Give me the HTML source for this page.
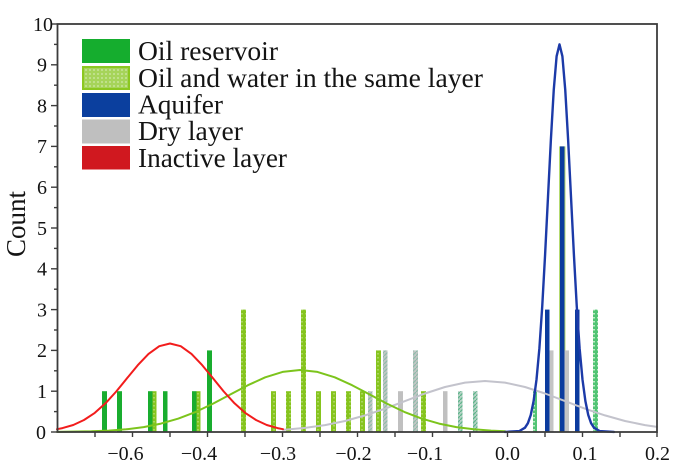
<!DOCTYPE html>
<html>
<head>
<meta charset="utf-8">
<style>
html,body{margin:0;padding:0;background:#ffffff;}
svg{display:block;}
text{font-family:"Liberation Serif","Times New Roman",serif;fill:#141414;}
</style>
</head>
<body>
<svg width="680" height="468" viewBox="0 0 680 468" xmlns="http://www.w3.org/2000/svg">
<defs>
  <pattern id="lg" width="4" height="4" patternUnits="userSpaceOnUse">
    <rect width="4" height="4" fill="#86c41e"/>
    <rect x="1" y="1" width="2" height="1.5" fill="#a9d65e"/>
  </pattern>
  <pattern id="gh" width="4" height="4" patternUnits="userSpaceOnUse">
    <rect width="4" height="4" fill="#c2c6c4"/>
    <path d="M0 4 L4 0" stroke="#8fbcab" stroke-width="1.2"/>
  </pattern>
  <pattern id="th" width="4" height="4" patternUnits="userSpaceOnUse">
    <rect width="4" height="4" fill="#b4d2c4"/>
    <path d="M0 4 L4 0" stroke="#5fb48c" stroke-width="1.3"/>
  </pattern>
  <pattern id="gd" width="4" height="4" patternUnits="userSpaceOnUse">
    <rect width="4" height="4" fill="#52c474"/>
    <rect x="1" y="1" width="2" height="1.5" fill="#c2ecc8"/>
  </pattern>
  <pattern id="lgs" width="4" height="4" patternUnits="userSpaceOnUse">
    <rect width="4" height="4" fill="#a6d45a"/>
    <rect x="1" y="1" width="2" height="2" fill="#bfe08a"/>
  </pattern>
</defs>

<rect x="0" y="0" width="680" height="468" fill="#ffffff"/>

<!-- Bars: dark green (Oil reservoir) -->
<g fill="#19ad2f">
  <rect x="102" y="391.2" width="5" height="40.8"/>
  <rect x="117" y="391.2" width="5" height="40.8"/>
  <rect x="148" y="391.2" width="4.5" height="40.8"/>
  <rect x="163" y="391.2" width="4.5" height="40.8"/>
  <rect x="192" y="391.2" width="4.5" height="40.8"/>
  <rect x="207" y="350.4" width="5" height="81.6"/>
</g>

<!-- Bars: light green (Oil and water in the same layer) -->
<g fill="url(#lg)">
  <rect x="152.5" y="391.2" width="4" height="40.8"/>
  <rect x="196.5" y="391.2" width="4" height="40.8"/>
  <rect x="241" y="309.6" width="5" height="122.4"/>
  <rect x="271" y="391.2" width="5" height="40.8"/>
  <rect x="286" y="391.2" width="5" height="40.8"/>
  <rect x="301" y="309.6" width="5" height="122.4"/>
  <rect x="316" y="391.2" width="5" height="40.8"/>
  <rect x="331" y="391.2" width="5" height="40.8"/>
  <rect x="346" y="391.2" width="5" height="40.8"/>
  <rect x="360" y="391.2" width="5" height="40.8"/>
  <rect x="376" y="350.4" width="5" height="81.6"/>
  <rect x="421" y="391.2" width="5" height="40.8"/>
</g>
<rect x="559" y="146.4" width="6.5" height="285.6" fill="#b4da70"/>

<!-- Bars: grey / hatched -->
<rect x="368" y="391.2" width="4.5" height="40.8" fill="url(#gh)"/>
<rect x="383" y="350.4" width="4.5" height="81.6" fill="url(#gh)"/>
<rect x="398" y="391.2" width="5" height="40.8" fill="#c0c0c0"/>
<rect x="413" y="350.4" width="5" height="81.6" fill="url(#gh)"/>
<rect x="443" y="391.2" width="4.5" height="40.8" fill="#c0c0c0"/>
<rect x="458" y="391.2" width="4.5" height="40.8" fill="url(#th)"/>
<rect x="473" y="391.2" width="4.5" height="40.8" fill="url(#th)"/>
<rect x="533" y="391.2" width="4" height="40.8" fill="url(#gd)"/>
<rect x="549" y="350.4" width="4.5" height="81.6" fill="#c4c4c4"/>
<rect x="564.5" y="350.4" width="4.5" height="81.6" fill="#c4c4c4"/>
<rect x="593" y="309.6" width="5" height="122.4" fill="url(#gd)"/>

<!-- Bars: blue (Aquifer) -->
<g fill="#0b3b9e">
  <rect x="545" y="309.6" width="4.5" height="122.4"/>
  <rect x="560" y="146.4" width="4.5" height="285.6"/>
  <rect x="575" y="309.6" width="4.5" height="122.4"/>
</g>

<!-- Curves -->
<g fill="none" stroke-linejoin="round" stroke-linecap="round">
  <polyline stroke="#c3c3cc" stroke-width="2"
    points="283,429.9 305,427.9 325,425.1 345,421.0 365,415.4 385,408.7 405,401.1 425,393.5 445,387.0 465,382.6 485,381 505,382.6 525,387.0 545,393.5 565,401.1 585,408.7 605,415.4 625,421.0 645,425.1 657,426.9"/>
  <polyline stroke="#7cc41c" stroke-width="2"
    points="57,431.9 91.5,431.3 108.9,430.6 126.25,429.3 143.6,427.1 161,423.6 178.4,418.6 195.75,411.9 213.1,403.6 230.5,394.4 247.9,385.2 265.25,377.3 282.6,371.9 300,370 317.4,371.9 334.75,377.3 352.1,385.2 369.5,394.4 386.9,403.6 404.25,411.9 421.6,418.6 439,423.6 456.4,427.1 473.75,429.3 491.1,430.6 505,431.2"/>
  <polyline stroke="#f21c1c" stroke-width="2"
    points="57,429.2 62.5,428.1 73.25,425.0 84,420.0 94.75,412.9 105.5,403.3 116.25,391.5 127,378.3 137.75,365.2 148.5,353.9 159.25,346.2 170,343.5 180.75,346.2 191.5,353.9 202.25,365.2 213,378.3 223.75,391.5 234.5,403.3 245.25,412.9 256,420.0 266.75,425.0 277.5,428.1 283,429.2"/>
  <polyline stroke="#1c3aa8" stroke-width="2.4"
    points="505,431.9 519.25,431.1 525,427.7 527.9,423.2 530.75,415.0 533.6,401.1 536.5,379.6 539.4,348.2 542.25,306.1 545.1,254.6 548,196.9 550.9,139.4 553.75,89.9 556.6,56.3 559.5,44.4 562.4,56.3 565.25,89.9 568.1,139.4 571,196.9 573.9,254.6 576.75,306.1 579.6,348.2 582.5,379.6 585.4,401.1 588.25,415.0 591.1,423.2 594,427.7 599.75,431.1 614,431.9"/>
</g>

<!-- Axes frame -->
<rect x="57.5" y="24" width="599.5" height="408" fill="none" stroke="#3c3c3c" stroke-width="1.8"/>

<!-- Y ticks -->
<g stroke="#3c3c3c" stroke-width="1.4">
  <line x1="51" y1="432" x2="57" y2="432"/>
  <line x1="51" y1="391.2" x2="57" y2="391.2"/>
  <line x1="51" y1="350.4" x2="57" y2="350.4"/>
  <line x1="51" y1="309.6" x2="57" y2="309.6"/>
  <line x1="51" y1="268.8" x2="57" y2="268.8"/>
  <line x1="51" y1="228" x2="57" y2="228"/>
  <line x1="51" y1="187.2" x2="57" y2="187.2"/>
  <line x1="51" y1="146.4" x2="57" y2="146.4"/>
  <line x1="51" y1="105.6" x2="57" y2="105.6"/>
  <line x1="51" y1="64.8" x2="57" y2="64.8"/>
  <line x1="51" y1="24" x2="57" y2="24"/>
  <line x1="54" y1="411.6" x2="57" y2="411.6"/>
  <line x1="54" y1="370.8" x2="57" y2="370.8"/>
  <line x1="54" y1="330" x2="57" y2="330"/>
  <line x1="54" y1="289.2" x2="57" y2="289.2"/>
  <line x1="54" y1="248.4" x2="57" y2="248.4"/>
  <line x1="54" y1="207.6" x2="57" y2="207.6"/>
  <line x1="54" y1="166.8" x2="57" y2="166.8"/>
  <line x1="54" y1="126" x2="57" y2="126"/>
  <line x1="54" y1="85.2" x2="57" y2="85.2"/>
  <line x1="54" y1="44.4" x2="57" y2="44.4"/>
</g>

<!-- X ticks -->
<g stroke="#3c3c3c" stroke-width="1.4">
  <line x1="95" y1="432" x2="95" y2="437"/>
  <line x1="132.5" y1="432" x2="132.5" y2="437"/>
  <line x1="170" y1="432" x2="170" y2="437"/>
  <line x1="207.5" y1="432" x2="207.5" y2="437"/>
  <line x1="245" y1="432" x2="245" y2="437"/>
  <line x1="282.5" y1="432" x2="282.5" y2="437"/>
  <line x1="320" y1="432" x2="320" y2="437"/>
  <line x1="357.5" y1="432" x2="357.5" y2="437"/>
  <line x1="395" y1="432" x2="395" y2="437"/>
  <line x1="432.5" y1="432" x2="432.5" y2="437"/>
  <line x1="470" y1="432" x2="470" y2="437"/>
  <line x1="507.5" y1="432" x2="507.5" y2="437"/>
  <line x1="545" y1="432" x2="545" y2="437"/>
  <line x1="582.5" y1="432" x2="582.5" y2="437"/>
  <line x1="620" y1="432" x2="620" y2="437"/>
  <line x1="657" y1="432" x2="657" y2="437"/>
</g>

<!-- Y tick labels -->
<g font-size="20" text-anchor="middle">
  <text x="41" y="438.8">0</text>
  <text x="42" y="398">1</text>
  <text x="42" y="357.2">2</text>
  <text x="42" y="316.4">3</text>
  <text x="42" y="275.6">4</text>
  <text x="42" y="234.8">5</text>
  <text x="42" y="194">6</text>
  <text x="42" y="153.2">7</text>
  <text x="42" y="112.4">8</text>
  <text x="42" y="71.6">9</text>
  <text x="43" y="30.8">10</text>
</g>

<!-- X tick labels -->
<g font-size="20" text-anchor="middle">
  <text x="125.5" y="460">−0.6</text>
  <text x="199" y="460">−0.4</text>
  <text x="278" y="460">−0.3</text>
  <text x="353.5" y="460">−0.2</text>
  <text x="425" y="460">−0.1</text>
  <text x="507.5" y="460">0.0</text>
  <text x="585" y="460">0.1</text>
  <text x="657.5" y="460">0.2</text>
</g>

<!-- Y axis title -->
<text x="0" y="0" font-size="27" text-anchor="middle" transform="translate(25,224) rotate(-90)">Count</text>

<!-- Legend -->
<rect x="82" y="39" width="48" height="24" fill="#15ad2e"/>
<rect x="83" y="67" width="46" height="22" fill="url(#lgs)" stroke="#8cc820" stroke-width="2"/>
<rect x="82" y="93" width="48" height="24" fill="#0b3f9e"/>
<rect x="82" y="119.5" width="48" height="24" fill="#bfbfbf"/>
<rect x="82" y="146" width="48" height="23.5" fill="#d0181f"/>

<g font-size="27.5">
  <text x="138" y="60" textLength="140" lengthAdjust="spacingAndGlyphs">Oil reservoir</text>
  <text x="138" y="87" textLength="345" lengthAdjust="spacingAndGlyphs">Oil and water in the same layer</text>
  <text x="138" y="113.5" textLength="85" lengthAdjust="spacingAndGlyphs">Aquifer</text>
  <text x="138" y="140" textLength="105" lengthAdjust="spacingAndGlyphs">Dry layer</text>
  <text x="138" y="167" textLength="149" lengthAdjust="spacingAndGlyphs">Inactive layer</text>
</g>
</svg>
</body>
</html>
